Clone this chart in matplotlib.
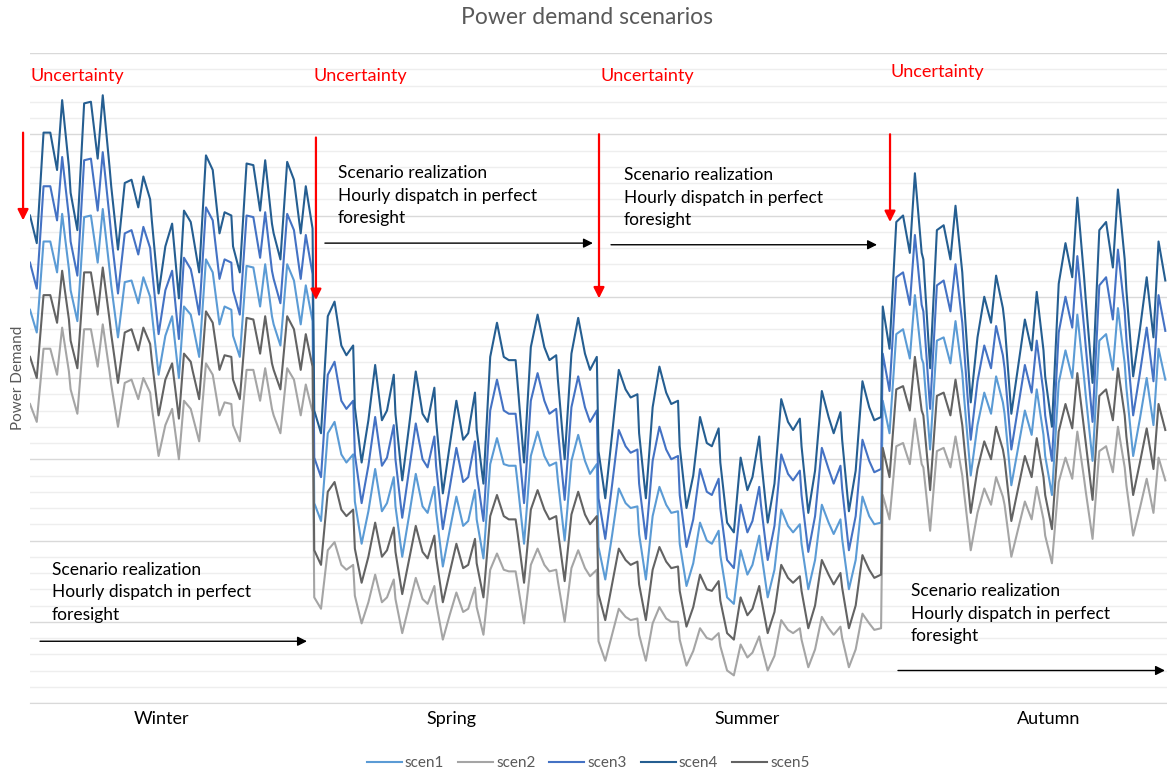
import matplotlib.pyplot as plt
from matplotlib.ticker import MultipleLocator

plt.rcParams['font.family'] = ['Lato', 'DejaVu Sans']

# one week per season, readings at these hours of each day
seasons = ['Winter', 'Spring', 'Summer', 'Autumn']
season_label_hours = [78, 249, 424, 602]
n_days = 28
sample_hours = [0, 4, 8, 12, 16, 19, 23]

scen4 = [
    30.0, 28.3, 35.1, 35.1, 32.8, 37.1, 33.0, 31.4, 29.1, 36.9, 37.0, 33.5, 37.4, 33.0,
    31.8, 27.9, 32.0, 32.2, 30.5, 32.4, 31.0, 29.7, 25.2, 28.1, 29.5, 24.9, 30.3, 29.6,
    29.0, 26.5, 33.7, 32.8, 28.9, 30.2, 30.0, 28.1, 26.5, 33.2, 33.1, 30.3, 33.4, 29.5,
    28.9, 27.3, 33.3, 32.2, 28.9, 31.8, 29.2,
    18.0, 16.6, 23.8, 24.7, 22.0, 21.4, 22.0, 18.2, 14.8, 17.4, 20.8, 17.4, 18.0, 20.2,
    17.8, 13.7, 17.0, 20.4, 17.8, 17.3, 19.4, 17.4, 12.9, 15.8, 18.6, 16.2, 16.6, 19.1,
    16.8, 13.5, 21.3, 23.4, 21.3, 21.1, 21.1, 19.9, 14.8, 21.9, 23.9, 21.9, 21.1, 21.4,
    19.9, 15.0, 21.5, 23.7, 21.5, 20.5, 21.3,
    15.5, 12.6, 16.5, 20.5, 19.3, 18.8, 19.0, 16.6, 12.6, 18.2, 20.7, 19.1, 18.4, 18.6,
    15.8, 12.0, 14.0, 17.6, 16.0, 15.8, 16.9, 14.8, 11.1, 10.5, 15.1, 13.1, 13.9, 16.4,
    15.1, 11.1, 13.5, 18.7, 17.3, 16.8, 17.5, 15.8, 11.7, 14.3, 19.2, 17.6, 16.6, 17.9,
    16.2, 11.8, 14.3, 19.8, 18.2, 17.4, 17.6,
    24.4, 21.8, 29.6, 30.0, 27.7, 32.6, 27.7, 27.3, 20.6, 29.1, 29.4, 27.3, 30.6, 26.5,
    24.8, 18.5, 22.5, 25.0, 23.4, 26.3, 24.3, 23.4, 17.8, 20.7, 23.6, 21.7, 25.3, 21.7,
    20.1, 17.0, 25.8, 28.3, 26.2, 31.1, 26.2, 24.8, 19.7, 29.1, 29.6, 26.8, 31.6, 27.3,
    25.4, 20.1, 23.0, 26.2, 22.5, 28.4, 26.0,
]
scen3 = [
    27.1, 25.5, 31.8, 31.8, 29.7, 33.6, 29.9, 28.4, 26.3, 33.4, 33.5, 30.3, 33.9, 29.9,
    28.8, 25.2, 28.9, 29.1, 27.6, 29.3, 28.0, 26.8, 22.7, 25.4, 26.6, 22.4, 27.4, 26.7,
    26.2, 23.9, 30.5, 29.7, 26.1, 27.3, 27.1, 25.4, 23.9, 30.0, 29.9, 27.4, 30.2, 26.6,
    26.1, 24.6, 30.1, 29.1, 26.1, 28.8, 26.4,
    15.1, 13.9, 20.2, 21.0, 18.6, 18.1, 18.6, 15.3, 12.3, 14.6, 17.6, 14.6, 15.1, 17.1,
    15.0, 11.4, 14.3, 17.2, 15.0, 14.5, 16.4, 14.6, 10.7, 13.2, 15.7, 13.6, 13.9, 16.1,
    14.1, 11.2, 18.0, 19.9, 18.0, 17.8, 17.8, 16.8, 12.3, 18.6, 20.3, 18.6, 17.8, 18.1,
    16.8, 12.5, 18.2, 20.1, 18.2, 17.3, 18.0,
    12.6, 10.1, 13.4, 16.8, 15.8, 15.4, 15.6, 13.5, 10.1, 14.9, 17.0, 15.6, 15.0, 15.2,
    12.8, 9.6, 11.3, 14.4, 13.0, 12.8, 13.8, 12.0, 8.8, 8.3, 12.2, 10.5, 11.2, 13.3,
    12.2, 8.8, 10.9, 15.3, 14.1, 13.7, 14.3, 12.8, 9.3, 11.5, 15.7, 14.4, 13.5, 14.6,
    13.2, 9.4, 11.5, 16.2, 14.9, 14.2, 14.4,
    21.5, 19.2, 26.2, 26.5, 24.5, 28.8, 24.5, 24.1, 18.1, 25.7, 26.0, 24.1, 27.0, 23.4,
    21.9, 16.2, 19.8, 22.0, 20.6, 23.2, 21.4, 20.6, 15.6, 18.2, 20.8, 19.1, 22.3, 19.1,
    17.7, 14.9, 22.8, 25.0, 23.1, 27.5, 23.1, 21.9, 17.3, 25.7, 26.2, 23.6, 27.9, 24.1,
    22.4, 17.7, 20.3, 23.1, 19.8, 25.1, 22.9,
]
scen1 = [
    24.2, 22.8, 28.4, 28.4, 26.5, 30.1, 26.7, 25.4, 23.5, 29.9, 30.0, 27.1, 30.4, 26.7,
    25.7, 22.5, 25.9, 26.0, 24.6, 26.2, 25.0, 24.0, 20.2, 22.6, 23.8, 20.0, 24.4, 23.9,
    23.4, 21.3, 27.3, 26.5, 23.3, 24.4, 24.2, 22.6, 21.3, 26.9, 26.8, 24.4, 27.0, 23.8,
    23.3, 22.0, 27.0, 26.0, 23.3, 25.7, 23.5,
    12.3, 11.2, 16.6, 17.3, 15.3, 14.8, 15.3, 12.4, 9.8, 11.8, 14.4, 11.8, 12.3, 13.9,
    12.1, 9.0, 11.5, 14.1, 12.1, 11.7, 13.3, 11.8, 8.4, 10.6, 12.7, 10.9, 11.2, 13.1,
    11.3, 8.9, 14.7, 16.3, 14.7, 14.6, 14.6, 13.7, 9.8, 15.2, 16.7, 15.2, 14.6, 14.8,
    13.7, 10.0, 14.9, 16.5, 14.9, 14.1, 14.7,
    9.6, 7.6, 10.3, 13.2, 12.3, 12.0, 12.1, 10.4, 7.6, 11.5, 13.3, 12.2, 11.7, 11.8,
    9.8, 7.2, 8.6, 11.1, 10.0, 9.8, 10.6, 9.1, 6.5, 6.1, 9.4, 7.9, 8.5, 10.3,
    9.4, 6.5, 8.2, 11.9, 10.9, 10.5, 11.0, 9.8, 7.0, 8.8, 12.2, 11.1, 10.4, 11.3,
    10.1, 7.0, 8.8, 12.7, 11.5, 11.0, 11.1,
    18.6, 16.6, 22.7, 23.0, 21.2, 25.1, 21.2, 20.9, 15.6, 22.3, 22.5, 20.9, 23.5, 20.3,
    18.9, 14.0, 17.1, 19.1, 17.8, 20.1, 18.5, 17.8, 13.4, 15.7, 18.0, 16.5, 19.3, 16.5,
    15.2, 12.8, 19.7, 21.7, 20.0, 23.9, 20.0, 18.9, 14.9, 22.3, 22.7, 20.5, 24.3, 20.9,
    19.4, 15.2, 17.5, 20.0, 17.1, 21.8, 19.9,
]
scen5 = [
    21.3, 20.0, 25.1, 25.1, 23.4, 26.6, 23.6, 22.3, 20.6, 26.5, 26.5, 23.9, 26.8, 23.6,
    22.7, 19.7, 22.8, 23.0, 21.7, 23.1, 22.1, 21.1, 17.7, 19.9, 20.9, 17.5, 21.5, 21.0,
    20.5, 18.7, 24.1, 23.4, 20.5, 21.4, 21.3, 19.9, 18.7, 23.7, 23.6, 21.5, 23.8, 20.9,
    20.5, 19.3, 23.8, 23.0, 20.5, 22.7, 20.7,
    9.4, 8.5, 13.0, 13.6, 11.9, 11.5, 11.9, 9.5, 7.4, 9.0, 11.1, 9.0, 9.4, 10.8,
    9.3, 6.7, 8.8, 10.9, 9.3, 8.9, 10.3, 9.0, 6.2, 8.0, 9.8, 8.3, 8.5, 10.1,
    8.6, 6.5, 11.5, 12.8, 11.5, 11.3, 11.3, 10.6, 7.4, 11.9, 13.1, 11.9, 11.3, 11.5,
    10.6, 7.5, 11.6, 13.0, 11.6, 11.0, 11.5,
    6.7, 5.1, 7.3, 9.5, 8.8, 8.5, 8.7, 7.3, 5.1, 8.2, 9.6, 8.7, 8.3, 8.4,
    6.9, 4.7, 5.9, 7.9, 7.0, 6.9, 7.5, 6.3, 4.3, 3.9, 6.5, 5.4, 5.8, 7.2,
    6.5, 4.3, 5.6, 8.5, 7.7, 7.4, 7.8, 6.9, 4.6, 6.0, 8.8, 7.9, 7.3, 8.0,
    7.1, 4.6, 6.0, 9.1, 8.2, 7.7, 7.9,
    15.7, 13.9, 19.3, 19.5, 18.0, 21.3, 18.0, 17.7, 13.1, 18.9, 19.1, 17.7, 19.9, 17.1,
    16.0, 11.7, 14.4, 16.1, 15.0, 17.0, 15.6, 15.0, 11.2, 13.2, 15.2, 13.9, 16.3, 13.9,
    12.8, 10.7, 16.7, 18.4, 16.9, 20.3, 16.9, 16.0, 12.5, 18.9, 19.3, 17.4, 20.6, 17.7,
    16.4, 12.8, 14.8, 16.9, 14.4, 18.4, 16.8,
]
scen2 = [
    18.4, 17.3, 21.8, 21.8, 20.2, 23.1, 20.4, 19.3, 17.8, 23.0, 23.0, 20.7, 23.3, 20.4,
    19.6, 17.0, 19.7, 19.9, 18.7, 20.0, 19.1, 18.2, 15.2, 17.1, 18.1, 15.0, 18.6, 18.1,
    17.7, 16.1, 20.9, 20.2, 17.7, 18.5, 18.4, 17.1, 16.1, 20.5, 20.5, 18.6, 20.6, 18.1,
    17.7, 16.6, 20.6, 19.9, 17.7, 19.6, 17.9,
    6.5, 5.8, 9.4, 9.9, 8.5, 8.2, 8.5, 6.6, 4.9, 6.2, 7.9, 6.2, 6.5, 7.6,
    6.4, 4.3, 6.0, 7.7, 6.4, 6.1, 7.2, 6.2, 3.9, 5.4, 6.8, 5.6, 5.8, 7.1,
    5.9, 4.2, 8.2, 9.2, 8.2, 8.1, 8.1, 7.5, 4.9, 8.5, 9.5, 8.5, 8.1, 8.2,
    7.5, 5.0, 8.3, 9.4, 8.3, 7.8, 8.2,
    3.8, 2.6, 4.2, 5.8, 5.3, 5.1, 5.2, 4.2, 2.6, 4.9, 5.9, 5.2, 5.0, 5.0,
    3.9, 2.3, 3.2, 4.6, 4.0, 3.9, 4.3, 3.5, 2.0, 1.7, 3.6, 2.8, 3.1, 4.1,
    3.6, 2.0, 2.9, 5.1, 4.5, 4.3, 4.6, 3.9, 2.2, 3.3, 5.3, 4.6, 4.2, 4.7,
    4.0, 2.2, 3.3, 5.5, 4.9, 4.5, 4.6,
    12.8, 11.3, 15.8, 16.0, 14.7, 17.5, 14.7, 14.5, 10.6, 15.5, 15.7, 14.5, 16.4, 14.0,
    13.0, 9.4, 11.7, 13.2, 12.2, 13.9, 12.7, 12.2, 9.0, 10.7, 12.4, 11.3, 13.3, 11.3,
    10.3, 8.6, 13.6, 15.1, 13.8, 16.7, 13.8, 13.0, 10.1, 15.5, 15.8, 14.2, 17.0, 14.5,
    13.4, 10.3, 12.0, 13.8, 11.7, 15.1, 13.7,
]

hours = [24 * d + h for d in range(n_days) for h in sample_hours]

series = [
    ('scen1', scen1, '#5B9BD5'),
    ('scen2', scen2, '#A5A5A5'),
    ('scen3', scen3, '#4472C4'),
    ('scen4', scen4, '#255E91'),
    ('scen5', scen5, '#636363'),
]

fig = plt.figure(figsize=(11.67, 7.71), dpi=100)
ax = fig.add_axes([30 / 1167, 68 / 771, 1137 / 1167, 650 / 771])

lines = []
for name, vals, col in series:
    ln, = ax.plot(hours, vals, color=col, lw=1.5, label=name)
    lines.append(ln)

ax.set_xlim(0, 672)
ax.set_ylim(0, 40)
ax.yaxis.set_major_locator(MultipleLocator(5))
ax.yaxis.set_minor_locator(MultipleLocator(1))
ax.grid(which='major', axis='y', color='#d9d9d9', lw=1)
ax.grid(which='minor', axis='y', color='#eeeeee', lw=1)
ax.set_axisbelow(True)
ax.tick_params(axis='y', which='both', left=False, labelleft=False)
for s in ['top', 'left', 'right']:
    ax.spines[s].set_visible(False)
ax.spines['bottom'].set_color('#d9d9d9')

ax.set_xticks(season_label_hours)
ax.set_xticklabels(seasons, fontsize=13)
ax.tick_params(axis='x', length=0, pad=6)

# uncertainty markers
red_arrows = [(-4.1, 35.1, 29.7), (169.0, 34.8, 24.8), (336.3, 35.0, 24.9), (508.3, 35.0, 29.6)]
for x, y0, y1 in red_arrows:
    ax.annotate('', xy=(x, y1), xytext=(x, y0), annotation_clip=False,
                arrowprops=dict(arrowstyle='-|>', color='red', lw=1.6,
                                mutation_scale=16, shrinkA=0, shrinkB=0))
for x, y in [(0, 38.6), (167.3, 38.6), (336.9, 38.6), (508.3, 38.8)]:
    ax.text(x, y, 'Uncertainty', color='red', fontsize=13, ha='left', va='center')

# realization periods
black_arrows = [(5.9, 163.7, 3.8), (174.3, 332.7, 28.3), (343.4, 500.6, 28.2), (513.0, 670.8, 2.0)]
for x0, x1, y in black_arrows:
    ax.annotate('', xy=(x1, y), xytext=(x0, y), annotation_clip=False,
                arrowprops=dict(arrowstyle='-|>', color='black', lw=1,
                                mutation_scale=14, shrinkA=0, shrinkB=0))
note = 'Scenario realization\nHourly dispatch in perfect\nforesight'
for x, y in [(13.0, 6.8), (182.0, 31.2), (351.1, 31.1), (520.7, 5.5)]:
    ax.text(x, y, note, fontsize=12.5, ha='left', va='center', linespacing=1.5)

fig.text(587 / 1167, 1 - 18 / 771, 'Power demand scenarios', ha='center', va='center',
         fontsize=16.5, color='#595959')
fig.text(18 / 1167, 1 - 378 / 771, 'Power Demand', rotation=90, ha='center', va='center',
         fontsize=11, color='#595959')

fig.legend(lines, [s[0] for s in series], loc='center', bbox_to_anchor=(588 / 1167, 1 - 763 / 771),
           ncol=5, frameon=False, fontsize=11, handlelength=2.3, handletextpad=0.2,
           columnspacing=0.9, labelcolor='#595959')

fig.savefig('out.png', dpi=100)
